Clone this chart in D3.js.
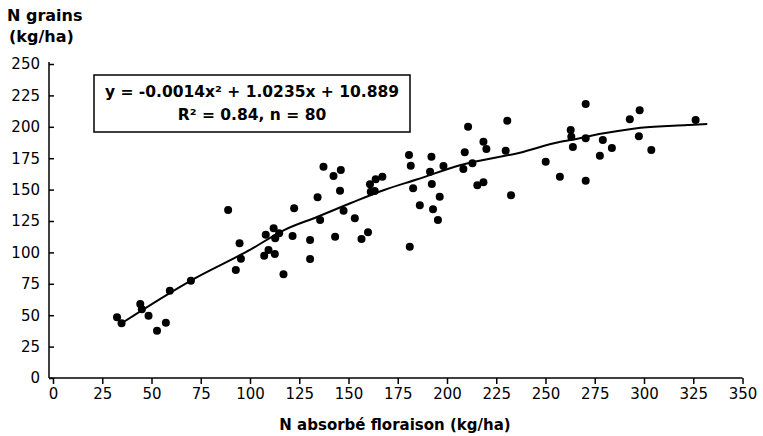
<!DOCTYPE html>
<html>
<head>
<meta charset="utf-8">
<script src="https://cdn.jsdelivr.net/npm/d3@7"></script>
<style>
  body { margin: 0; background: #fff; }
  svg { display: block; font-family: "DejaVu Sans", sans-serif; }
  .tick line { stroke: #000; stroke-width: 1.5; }
</style>
</head>
<body>
<div class="chart"></div>
<script>
// N absorbed at flowering (kg/ha) for each of the 80 plots
const nAbsorbed = [32.5, 34.8, 44.3, 45.1, 48.5, 52.8, 57.3, 59.3, 70.0, 88.9,
  92.8, 94.7, 95.4, 107.2, 108.0, 109.4, 112.0, 112.6, 112.8, 114.8,
  117.0, 122.4, 121.6, 130.5, 130.5, 134.3, 135.6, 137.3, 142.4, 146.1,
  145.7, 143.2, 147.5, 153.2, 156.6, 159.9, 160.9, 161.3, 163.3, 163.8,
  167.2, 181.1, 180.7, 181.6, 182.8, 186.2, 191.4, 192.1, 192.3, 192.9,
  196.3, 195.4, 198.2, 210.7, 209.0, 208.3, 212.9, 215.4, 218.5, 218.5,
  220.0, 230.6, 229.8, 232.5, 250.1, 257.3, 262.8, 263.1, 263.9, 270.4,
  270.4, 270.4, 277.6, 279.1, 283.7, 292.8, 297.8, 297.4, 303.7, 326.2];

// N in grains (kg/ha), same order
const nGrains = [48.3, 43.6, 58.9, 54.7, 49.6, 37.7, 44.0, 69.5, 77.5, 133.8,
  86.0, 107.2, 95.0, 97.4, 114.1, 101.9, 119.2, 98.7, 111.2, 115.2,
  82.6, 135.1, 113.1, 109.9, 94.7, 143.9, 125.8, 168.2, 160.8, 165.6,
  149.1, 112.5, 133.2, 127.1, 110.7, 116.0, 154.2, 148.3, 148.9, 158.2,
  160.3, 104.5, 177.5, 169.0, 151.0, 137.5, 164.3, 176.2, 154.5, 134.3,
  144.3, 125.8, 168.8, 200.1, 179.7, 166.4, 170.9, 153.4, 155.8, 188.1,
  182.3, 204.9, 181.0, 145.5, 172.2, 160.3, 197.5, 192.1, 183.9, 218.2,
  190.8, 157.1, 177.0, 189.5, 183.1, 206.0, 213.1, 192.4, 181.5, 205.4];

// fitted curve as drawn on the figure
const fitX = [34.8, 70, 100.4, 117.3, 134.3, 151.2, 168.1, 185, 207, 237, 257.7, 262.8, 279.6, 298.3, 322, 332.1];
const fitY = [43.6, 77.6, 102.4, 117.8, 128.4, 139.3, 149.7, 158.2, 169.6, 179.4, 188.1, 189.5, 194.8, 199.3, 201.4, 202.2];

const xTickValues = [0, 25, 50, 75, 100, 125, 150, 175, 200, 225, 250, 275, 300, 325, 350];
const yTickValues = [0, 25, 50, 75, 100, 125, 150, 175, 200, 225, 250];

const equationLines = ["y = -0.0014x\u00b2 + 1.0235x + 10.889", "R\u00b2 = 0.84, n = 80"];

const svg = d3.select(".chart")
  .append("svg")
  .attr("width", 763)
  .attr("height", 436);

svg.append("rect")
  .attr("width", 763)
  .attr("height", 436)
  .attr("fill", "#fff");

const xScale = d3.scaleLinear().domain([0, 350]).range([53, 742.5]);
const yScale = d3.scaleLinear().domain([0, 250]).range([378, 64]);
const axisX0 = 49;

// x axis
const xAxis = d3.axisBottom(xScale)
  .tickValues(xTickValues)
  .tickSize(6)
  .tickSizeOuter(0)
  .tickPadding(4);

const gx = svg.append("g")
  .attr("transform", `translate(0,${yScale(0)})`)
  .call(xAxis)
  .attr("font-family", "DejaVu Sans")
  .attr("font-size", 15);
gx.select(".domain").remove();

// y axis, ticks pointing inward
const yAxis = d3.axisLeft(yScale)
  .tickValues(yTickValues)
  .tickSize(-5)
  .tickSizeOuter(0)
  .tickPadding(9);

const gy = svg.append("g")
  .attr("transform", `translate(${axisX0},0)`)
  .call(yAxis)
  .attr("font-family", "DejaVu Sans")
  .attr("font-size", 15);
gy.select(".domain").remove();

// axis lines
svg.append("line")
  .attr("x1", axisX0).attr("x2", xScale(350))
  .attr("y1", yScale(0)).attr("y2", yScale(0))
  .attr("stroke", "#000").attr("stroke-width", 1.5);
svg.append("line")
  .attr("x1", axisX0).attr("x2", axisX0)
  .attr("y1", yScale(0)).attr("y2", yScale(250) - 2)
  .attr("stroke", "#000").attr("stroke-width", 1.5);

// axis titles
svg.append("text")
  .attr("x", 7).attr("y", 21)
  .style("font-size", "16px").style("font-weight", "bold")
  .text("N grains");
svg.append("text")
  .attr("x", 9).attr("y", 42)
  .style("font-size", "16px").style("font-weight", "bold")
  .text("(kg/ha)");
svg.append("text")
  .attr("x", 395).attr("y", 430)
  .attr("text-anchor", "middle")
  .style("font-size", "15px").style("font-weight", "bold")
  .text("N absorbé floraison (kg/ha)");

// points
const points = nAbsorbed.map((x, i) => ({ x: x, y: nGrains[i] }));
svg.append("g")
  .selectAll("circle")
  .data(points)
  .enter()
  .append("circle")
  .attr("cx", d => xScale(d.x))
  .attr("cy", d => yScale(d.y))
  .attr("r", 4)
  .attr("fill", "#000");

// fitted curve
const line = d3.line()
  .x(d => xScale(d[0]))
  .y(d => yScale(d[1]))
  .curve(d3.curveMonotoneX);
svg.append("path")
  .datum(fitX.map((x, i) => [x, fitY[i]]))
  .attr("d", line)
  .attr("fill", "none")
  .attr("stroke", "#000")
  .attr("stroke-width", 2);

// equation box
svg.append("rect")
  .attr("x", 94).attr("y", 75)
  .attr("width", 316).attr("height", 57)
  .attr("fill", "#fff")
  .attr("stroke", "#000")
  .attr("stroke-width", 1.5);
svg.selectAll(".eq")
  .data(equationLines)
  .enter()
  .append("text")
  .attr("class", "eq")
  .attr("x", 252)
  .attr("y", (d, i) => 97 + i * 23)
  .attr("text-anchor", "middle")
  .style("font-size", "15.5px")
  .style("font-weight", "bold")
  .text(d => d);
</script>
</body>
</html>
